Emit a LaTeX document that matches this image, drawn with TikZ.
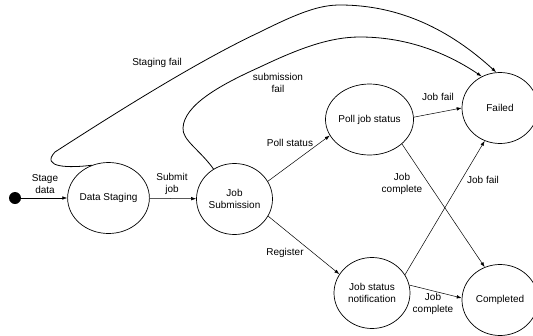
\documentclass[tikz,border=0pt]{standalone}
\usepackage{fontspec}
\setmainfont{Liberation Sans}
\usetikzlibrary{arrows.meta,shapes.geometric}
\begin{document}
\begin{tikzpicture}[x=1pt,y=-1pt,
  state/.style={draw,ellipse,line width=0.7pt,minimum width=76pt,minimum height=71pt,inner sep=0pt,align=center,font=\fontsize{10}{12.5}\selectfont},
  lbl/.style={align=center,font=\fontsize{10}{12.5}\selectfont,inner sep=0pt},
  tr/.style={line width=0.5pt,-{Latex[length=5pt,width=3.5pt]}},
  loopline/.style={line width=0.8pt,-{Latex[length=5pt,width=3.5pt]}}]
\useasboundingbox (0,0) rectangle (533,335);
\node[circle,fill=black,minimum size=12pt,inner sep=0pt] (init) at (15,198) {};
\node[state] (ds) at (108.5,198) {Data Staging};
\node[state] (js) at (234.5,199) {Job\\Submission};
\node[state] (pl) at (369.5,119.5) {Poll job status};
\node[state] (fl) at (500,108) {Failed};
\node[state] (jsn) at (372,293) {Job status\\notification};
\node[state] (cp) at (500,300) {Completed};

\draw[tr] (init) -- (ds);
\draw[tr] (ds) -- (js);
\draw[tr] (js.28) -- (pl.202);
\draw[tr] (js.-27) -- (jsn.150);
\draw[tr] (pl.3) -- (fl.180);
\draw[tr] (pl.-37) -- (cp.115);
\draw[tr] (jsn.29) -- (fl.-115);
\draw[tr] (jsn.12) -- (cp.177);

\draw[loopline] (ds.117) .. controls (70,168) and (40,168) .. (55,152)
  .. controls (120,110) and (200,60) .. (260,32)
  .. controls (300,12) and (320,5) .. (340,5)
  .. controls (400,5) and (450,30) .. (fl.96);
\draw[loopline] (js.125) .. controls (200,150) and (182,140) .. (183,128)
  .. controls (184,105) and (220,85) .. (260,67)
  .. controls (300,48) and (330,37) .. (360,37)
  .. controls (410,37) and (450,55) .. (fl.120);

\node[lbl] (l1) at (45,184) {Stage\\data};
\node[lbl] (l2) at (172,184) {Submit\\job};
\node[lbl] (l3) at (157,63) {Staging fail};
\node[lbl] (l4) at (278,83) {submission\\fail};
\node[lbl] (l5) at (290,143) {Poll status};
\node[lbl] (l6) at (438,97) {Job fail};
\node[lbl] (l7) at (402,184) {Job\\complete};
\node[lbl] (l8) at (483,180) {Job fail};
\node[lbl] (l9) at (285,253) {Register};
\node[lbl] (l10) at (433,304) {Job\\complete};
\end{tikzpicture}
\end{document}
